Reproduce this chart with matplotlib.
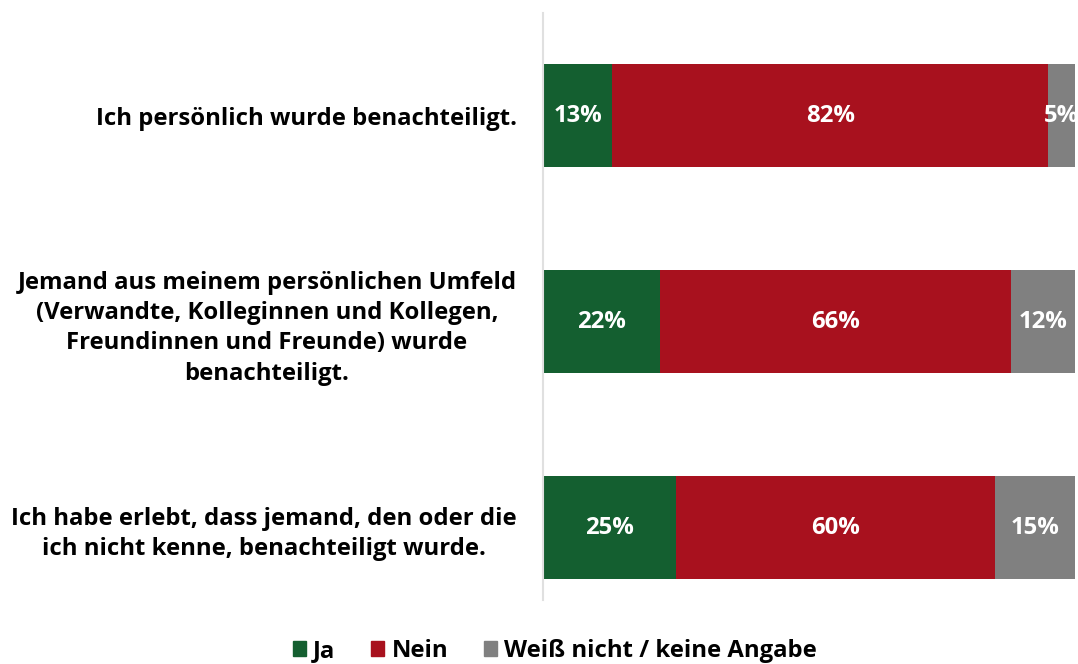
import numpy as np
import matplotlib.pyplot as plt
import matplotlib.font_manager as fm
from matplotlib.patches import Patch

#! datos
kategorien = [
  "Ich persönlich wurde benachteiligt.",
  "Jemand aus meinem persönlichen Umfeld\n(Verwandte, Kolleginnen und Kollegen,\nFreundinnen und Freunde) wurde\nbenachteiligt.",
  "Ich habe erlebt, dass jemand, den oder die\nich nicht kenne, benachteiligt wurde.",
]
serien = ["Ja", "Nein", "Weiß nicht / keine Angabe"]
ja = [13, 22, 25]
nein = [82, 66, 60]
weiss_nicht = [5, 12, 15]

farben = ["#145f30", "#a8111e", "#808080"]

def fuente_bold(size):
  rutas = [f.fname for f in fm.fontManager.ttflist if f.fname.endswith("OpenSans-Bold.ttf")]
  if rutas:
    return fm.FontProperties(fname=rutas[0], size=size)
  return fm.FontProperties(family="DejaVu Sans", weight="bold", size=size)

def main():
  tam = 17.2
  fp = fuente_bold(tam)

  fig = plt.figure(figsize=(10.78, 6.64), dpi=100)
  ax = fig.add_axes([543/1078, 1-600/664, (1075-543)/1078, (600-13)/664])

  y = np.arange(len(kategorien))
  werte = [ja, nein, weiss_nicht]
  links = np.zeros(len(kategorien))
  for serie, vals, col in zip(serien, werte, farben):
    vals = np.array(vals, dtype=float)
    ax.barh(y, vals, left=links, height=0.5, color=col, label=serie)
    for yi, l, v in zip(y, links, vals):
      ax.text(l+v/2, yi, f"{int(v)}%", color="white", ha="center", va="center",
              fontproperties=fp, clip_on=False)
    links += vals

  ax.set_xlim(0, 100)
  ax.set_ylim(2.35, -0.5)
  ax.set_yticks(y)
  ax.set_yticklabels(kategorien, fontproperties=fp, linespacing=1.35,
                     multialignment="center")
  ax.tick_params(axis="y", length=0, pad=19)
  ax.set_xticks([])
  for s in ["top", "right", "bottom"]:
    ax.spines[s].set_visible(False)
  ax.spines["left"].set_color("#e0e0e0")
  ax.spines["left"].set_linewidth(1.5)

  handles = [Patch(color=c) for c in farben]
  fig.legend(handles, serien, loc="center", bbox_to_anchor=(555/1078, 1-651/664),
             ncol=3, frameon=False, handlelength=0.55, handleheight=0.55,
             handletextpad=0.3, columnspacing=1.5, prop=fp)

  fig.savefig("out.png", dpi=100)

if __name__ == "__main__":
  main()
